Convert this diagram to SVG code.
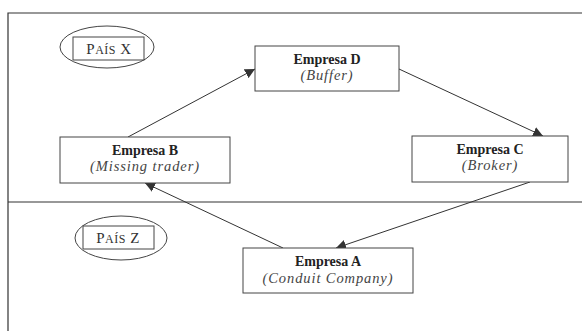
<svg xmlns="http://www.w3.org/2000/svg" width="582" height="331" viewBox="0 0 582 331">
<style>
.frame{stroke:#333;stroke-width:1.2;fill:none}
.box{fill:#fff;stroke:#444;stroke-width:1}
.ell{fill:none;stroke:#444;stroke-width:1}
.title{font-family:"Liberation Serif",serif;font-size:14px;font-weight:bold;fill:#222;text-anchor:middle}
.sub{font-family:"Liberation Serif",serif;font-size:14.5px;font-style:italic;fill:#444;text-anchor:middle;letter-spacing:0.9px}
.pais{font-family:"Liberation Serif",serif;font-size:15px;fill:#333;text-anchor:middle;letter-spacing:0.5px}
.conn{stroke:#333;stroke-width:1;fill:none;marker-end:url(#ah)}
</style>
<defs>
<marker id="ah" viewBox="0 0 10 10" refX="10" refY="5" markerWidth="10" markerHeight="10" markerUnits="userSpaceOnUse" orient="auto">
<path d="M0,0 L10,5 L0,10 z" fill="#333"/>
</marker>
</defs>
<rect width="582" height="331" fill="#fff"/>
<g id="frame">
<path class="frame" d="M8,331 L8,13 L582,13"/>
<path class="frame" d="M8,202 L582,202"/>
</g>
<g id="paisX">
<ellipse class="ell" cx="107" cy="47" rx="47" ry="21"/>
<rect class="box" x="73" y="37" width="71" height="23"/>
<text class="pais" x="109" y="54">P<tspan font-size="12">AÍS</tspan> X</text>
</g>
<g id="paisZ">
<ellipse class="ell" cx="121" cy="238" rx="46" ry="22"/>
<rect class="box" x="83" y="226" width="71" height="23"/>
<text class="pais" x="118" y="243">P<tspan font-size="12">AÍS</tspan> Z</text>
</g>
<g id="connectors">
<line class="conn" x1="128" y1="137" x2="255" y2="69"/>
<line class="conn" x1="399" y1="69" x2="543" y2="136"/>
<line class="conn" x1="530" y1="182" x2="336" y2="248"/>
<line class="conn" x1="283" y1="248" x2="145" y2="183"/>
</g>
<g id="empresaD">
<rect class="box" x="255" y="46" width="144" height="45"/>
<text class="title" x="327" y="64">Empresa D</text>
<text class="sub" x="327" y="80">(Buffer)</text>
</g>
<g id="empresaB">
<rect class="box" x="60" y="137" width="170" height="46"/>
<text class="title" x="145" y="155">Empresa B</text>
<text class="sub" x="145" y="171">(Missing trader)</text>
</g>
<g id="empresaC">
<rect class="box" x="412" y="136" width="156" height="46"/>
<text class="title" x="490" y="154">Empresa C</text>
<text class="sub" x="490" y="170">(Broker)</text>
</g>
<g id="empresaA">
<rect class="box" x="243" y="248" width="170" height="45"/>
<text class="title" x="328" y="266">Empresa A</text>
<text class="sub" x="328" y="283">(Conduit Company)</text>
</g>
</svg>
